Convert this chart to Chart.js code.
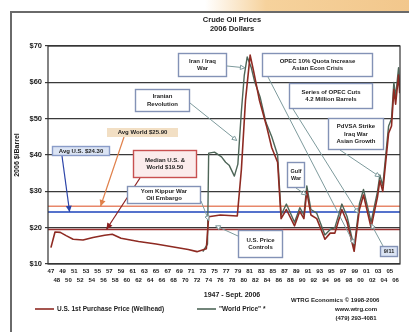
<!DOCTYPE html>
<html>
<head>
<meta charset="utf-8">
<script src="https://cdn.jsdelivr.net/npm/chart.js@4.4.1/dist/chart.umd.min.js"></script>
<style>
  html, body { margin: 0; padding: 0; background: #ffffff; }
  #wrap { position: relative; width: 409px; height: 332px; overflow: hidden; background: #ffffff; }
  #band { position: absolute; left: 205px; top: 0; width: 204px; height: 11px;
          background: linear-gradient(to right, rgba(246,210,156,0), #f6d29c 30%, #f2c78c); }
  canvas { position: absolute; left: 0; top: 0; }
</style>
</head>
<body>
<div id="wrap">
  <div id="band"></div>
  <canvas id="chart" width="409" height="332"></canvas>
</div>
<script>
// U.S. first purchase (wellhead) price, 2006 dollars per barrel
const usYears = [1947.0, 1947.7, 1948.6, 1949.6, 1950.8, 1952.5, 1954.2, 1956.2, 1957.5, 1959.0,
                 1962.0, 1965.0, 1968.0, 1970.5, 1972.0, 1973.6, 1974.0, 1976.0, 1978.9, 1979.6,
                 1980.3, 1981.1, 1981.7, 1982.7, 1983.9, 1984.8, 1985.8, 1986.4, 1987.3, 1988.7,
                 1989.6, 1990.3, 1990.8, 1991.5, 1992.5, 1993.9, 1994.8, 1995.6, 1996.8, 1997.7,
                 1998.9, 1999.8, 2000.5, 2001.8, 2002.9, 2003.3, 2003.8, 2004.8, 2005.3, 2005.7,
                 2006.0, 2006.5, 2006.7];
const usPrice = [14.5, 18.8, 18.7, 17.8, 16.8, 16.6, 17.3, 17.9, 18.2, 17.1,
                 16.2, 15.5, 14.7, 14.0, 13.4, 14.2, 23.0, 23.5, 23.2, 36.0,
                 55.0, 67.5, 63.0, 55.0, 48.0, 42.0, 38.0, 22.5, 25.0, 20.5,
                 24.5, 22.5, 30.0, 23.5, 22.5, 16.8, 18.5, 18.5, 25.0, 21.5,
                 13.5, 25.0, 29.0, 20.0, 28.5, 33.0, 30.0, 46.0, 48.0, 58.0,
                 54.0, 62.0, 57.0];

// "World Price", 2006 dollars per barrel
const worldYears = [1973.0, 1973.8, 1974.0, 1975.0, 1976.2, 1976.9, 1977.5, 1978.4, 1979.0, 1979.6,
                    1980.1, 1980.6, 1981.3, 1981.9, 1982.8, 1983.8, 1984.8, 1985.8, 1986.4, 1987.3,
                    1988.7, 1989.6, 1990.3, 1990.8, 1991.5, 1992.5, 1993.9, 1994.8, 1995.6, 1996.8,
                    1997.7, 1998.9, 1999.8, 2000.5, 2001.8, 2002.9, 2003.3, 2003.8, 2004.8, 2005.3,
                    2005.7, 2006.0, 2006.5, 2006.7];
const worldPrice = [13.4, 15.5, 40.5, 40.8, 39.5, 38.0, 37.2, 34.2, 37.5, 52.0,
                    62.0, 67.0, 64.0, 60.0, 56.0, 49.0, 45.0, 40.0, 23.5, 26.5,
                    21.5, 25.5, 23.5, 31.5, 25.0, 24.0, 18.0, 19.5, 20.0, 26.5,
                    23.0, 14.5, 26.5, 30.5, 21.5, 30.0, 34.5, 31.5, 48.0, 50.0,
                    60.0, 56.0, 64.0, 59.0];

// Period averages and median
const avgUS = 24.30;
const avgWorld = 25.90;
const medianAll = 19.50;

// Axis ticks
const yearTicks = [];
for (let y = 1947; y <= 2006; y++) yearTicks.push(y);
const priceTicks = [10, 20, 30, 40, 50, 60, 70];

const US_COLOR = '#8e2a22';
const WORLD_COLOR = '#4e6658';
const FONT = "'Liberation Sans', Arial, sans-serif";

const toPoints = (xs, ys) => xs.map((x, i) => ({ x: x, y: ys[i] }));

// Event call-outs: text box (pixel layout) and the point it refers to (year, price)
const callouts = [
  { lines: ['Iran / Iraq', 'War'], box: [178, 53, 49, 24], from: [227, 66], to: [1980.2, 64] },
  { lines: ['OPEC 10% Quota Increase', 'Asian Econ Crisis'], box: [262, 53, 111, 24], from: [268, 77], to: [1998.9, 15.5] },
  { lines: ['Series of OPEC Cuts', '4.2 Million Barrels'], box: [289, 83, 84, 26], from: [293, 109], to: [1999.6, 24] },
  { lines: ['Iranian', 'Revolution'], box: [135, 89, 55, 23], from: [190, 103], to: [1978.8, 44] },
  { lines: ['Yom Kippur War', 'Oil Embargo'], box: [127, 186, 74, 18], from: [201, 201], to: [1974.0, 22] },
  { lines: ['U.S. Price', 'Controls'], box: [238, 230, 45, 28], from: [238, 236], to: [1975.2, 20.5] },
  { lines: ['Gulf', 'War'], box: [287, 162, 18, 26], from: [296, 188], to: [1990.7, 29] },
  { lines: ['PdVSA Strike', 'Iraq War', 'Asian Growth'], box: [328, 118, 56, 32], from: [340, 150], to: [2003.3, 34] },
  { lines: ['9/11'], box: [380, 246, 18, 11], from: [383, 246], to: [2001.8, 21], fill: '#dbe4f4' }
];

// Labels for the reference lines
const refLabels = [
  { text: 'Avg World $' + avgWorld.toFixed(2), box: [107, 128, 71, 9], from: [124, 137], to: [1955.5, avgWorld],
    color: '#e0804a', fill: '#f2dfc4', stroke: null },
  { text: 'Avg U.S. $' + avgUS.toFixed(2), box: [52, 146, 58, 10], from: [62, 156], to: [1950.2, avgUS],
    color: '#2c44a8', fill: '#dbe4f4', stroke: '#8a9cc8' },
  { lines: ['Median U.S. &', 'World $' + medianAll.toFixed(2)], box: [133, 150, 64, 28], from: [140, 178], to: [1956.5, medianAll],
    color: '#8c1f1f', fill: '#fbecec', stroke: '#c85050' }
];

function arrowHead(ctx, x0, y0, x1, y1, size, filled, color) {
  const a = Math.atan2(y1 - y0, x1 - x0);
  ctx.beginPath();
  ctx.moveTo(x1, y1);
  ctx.lineTo(x1 - size * Math.cos(a - 0.45), y1 - size * Math.sin(a - 0.45));
  ctx.lineTo(x1 - size * Math.cos(a + 0.45), y1 - size * Math.sin(a + 0.45));
  ctx.closePath();
  if (filled) { ctx.fillStyle = color; ctx.fill(); }
  else { ctx.fillStyle = '#ffffff'; ctx.fill(); ctx.strokeStyle = color; ctx.stroke(); }
}

function drawBox(ctx, b, lines, fill, stroke, size) {
  const [x, y, w, h] = b;
  ctx.fillStyle = fill || '#ffffff';
  ctx.fillRect(x, y, w, h);
  if (stroke) {
    ctx.strokeStyle = stroke;
    ctx.lineWidth = 1.4;
    ctx.strokeRect(x + 0.5, y + 0.5, w - 1, h - 1);
  }
  ctx.fillStyle = '#1e1e1e';
  ctx.font = 'bold ' + size + 'px ' + FONT;
  ctx.textAlign = 'center';
  ctx.textBaseline = 'middle';
  const lh = size + 1.6;
  const top = y + h / 2 - (lines.length - 1) * lh / 2;
  lines.forEach((t, i) => ctx.fillText(t, x + w / 2, top + i * lh));
}

const decor = {
  id: 'decor',
  beforeDatasetsDraw(chart) {
    const { ctx, chartArea: a, scales: { y } } = chart;
    ctx.save();
    const refs = [[avgWorld, '#e8876a', 1.6], [avgUS, '#5572cc', 2.0], [medianAll, '#9a3030', 1.6]];
    refs.forEach(([v, c, w]) => {
      const py = y.getPixelForValue(v);
      ctx.strokeStyle = c;
      ctx.lineWidth = w;
      ctx.beginPath();
      ctx.moveTo(a.left, py);
      ctx.lineTo(a.right, py);
      ctx.stroke();
    });
    ctx.restore();
  },
  afterDatasetsDraw(chart) {
    const { ctx, chartArea: a, scales: { x, y } } = chart;
    ctx.save();
    // plot frame
    ctx.strokeStyle = '#333333';
    ctx.lineWidth = 1.2;
    ctx.strokeRect(a.left, a.top, a.right - a.left, a.bottom - a.top);

    // call-out arrows
    callouts.forEach(c => {
      const tx = x.getPixelForValue(c.to[0]);
      const ty = y.getPixelForValue(c.to[1]);
      ctx.strokeStyle = '#7d9a9c';
      ctx.lineWidth = 1;
      ctx.beginPath();
      ctx.moveTo(c.from[0], c.from[1]);
      ctx.lineTo(tx, ty);
      ctx.stroke();
      arrowHead(ctx, c.from[0], c.from[1], tx, ty, 5, false, '#7d9a9c');
    });
    refLabels.forEach(r => {
      const tx = x.getPixelForValue(r.to[0]);
      const ty = y.getPixelForValue(r.to[1]);
      ctx.strokeStyle = r.color;
      ctx.lineWidth = 1.2;
      ctx.beginPath();
      ctx.moveTo(r.from[0], r.from[1]);
      ctx.lineTo(tx, ty);
      ctx.stroke();
      arrowHead(ctx, r.from[0], r.from[1], tx, ty, 7, true, r.color);
    });

    // call-out boxes
    callouts.forEach(c => drawBox(ctx, c.box, c.lines, c.fill, '#8392b6', c.box[2] < 25 ? 5.5 : 6));
    refLabels.forEach(r => drawBox(ctx, r.box, r.lines || [r.text], r.fill, r.stroke, 6));
    ctx.restore();
  },
  afterDraw(chart) {
    const { ctx } = chart;
    ctx.save();
    // outer frame
    ctx.strokeStyle = '#6a6a6a';
    ctx.lineWidth = 2;
    ctx.beginPath();
    ctx.moveTo(11, 332);
    ctx.lineTo(11, 12);
    ctx.lineTo(409, 12);
    ctx.stroke();

    ctx.fillStyle = '#1a1a1a';
    ctx.textAlign = 'center';
    ctx.textBaseline = 'middle';
    ctx.font = 'bold 7.5px ' + FONT;
    ctx.fillText('Crude Oil Prices', 232, 20);
    ctx.fillText('2006 Dollars', 232, 29);

    ctx.font = 'bold 7px ' + FONT;
    ctx.fillText('1947 - Sept. 2006', 232, 295);

    // legend
    const ly = 309;
    ctx.lineWidth = 1.6;
    ctx.strokeStyle = US_COLOR;
    ctx.beginPath(); ctx.moveTo(35, ly); ctx.lineTo(54, ly); ctx.stroke();
    ctx.strokeStyle = WORLD_COLOR;
    ctx.beginPath(); ctx.moveTo(197, ly); ctx.lineTo(216, ly); ctx.stroke();
    ctx.textAlign = 'left';
    ctx.font = 'bold 6.5px ' + FONT;
    ctx.fillStyle = '#1a1a1a';
    ctx.fillText('U.S. 1st Purchase Price (Wellhead)', 57, ly);
    ctx.fillText('"World Price" *', 219, ly);

    // source
    ctx.font = 'bold 6px ' + FONT;
    ctx.fillText('WTRG Economics \u00A9 1998-2006', 291, 300);
    ctx.textAlign = 'center';
    ctx.fillText('www.wtrg.com', 356, 309);
    ctx.fillText('(479) 293-4081', 356, 318);
    ctx.restore();
  }
};

new Chart(document.getElementById('chart'), {
  type: 'line',
  data: {
    datasets: [
      { label: 'U.S. 1st Purchase Price (Wellhead)', data: toPoints(usYears, usPrice),
        borderColor: US_COLOR, borderWidth: 1.6, pointRadius: 0, tension: 0, borderJoinStyle: 'round' },
      { label: '"World Price" *', data: toPoints(worldYears, worldPrice),
        borderColor: WORLD_COLOR, borderWidth: 1.4, pointRadius: 0, tension: 0, borderJoinStyle: 'round' }
    ]
  },
  options: {
    responsive: false,
    animation: false,
    events: [],
    layout: { padding: { left: 10, top: 46, right: 9, bottom: 0 } },
    plugins: { legend: { display: false }, tooltip: { enabled: false }, title: { display: false } },
    scales: {
      x: {
        type: 'linear',
        min: 1946.5,
        max: 2006.75,
        afterBuildTicks(scale) { scale.ticks = yearTicks.map(v => ({ value: v })); },
        afterFit(scale) { scale.height = 68; },
        grid: { display: false, drawTicks: false },
        border: { display: false },
        ticks: {
          autoSkip: false,
          maxRotation: 0,
          minRotation: 0,
          padding: 3,
          color: '#1a1a1a',
          font: { family: FONT, size: 6, weight: 'bold', lineHeight: 1.5 },
          callback(v) {
            const s = String(v % 100).padStart(2, '0');
            return (v % 2) ? [s, ''] : ['', s];
          }
        }
      },
      y: {
        min: 10,
        max: 70,
        afterBuildTicks(scale) { scale.ticks = priceTicks.map(v => ({ value: v })); },
        afterFit(scale) { scale.width = 38; },
        grid: { color: '#3a3a3a', lineWidth: 1.2, tickLength: 3 },
        border: { display: false },
        ticks: {
          padding: 3,
          color: '#1a1a1a',
          font: { family: FONT, size: 7.5, weight: 'bold' },
          callback: v => '$' + v
        },
        title: {
          display: true,
          text: '2006 $/Barrel',
          color: '#1a1a1a',
          padding: { top: 3, bottom: 0 },
          font: { family: FONT, size: 7, weight: 'bold' }
        }
      }
    }
  },
  plugins: [decor]
});
</script>
</body>
</html>
